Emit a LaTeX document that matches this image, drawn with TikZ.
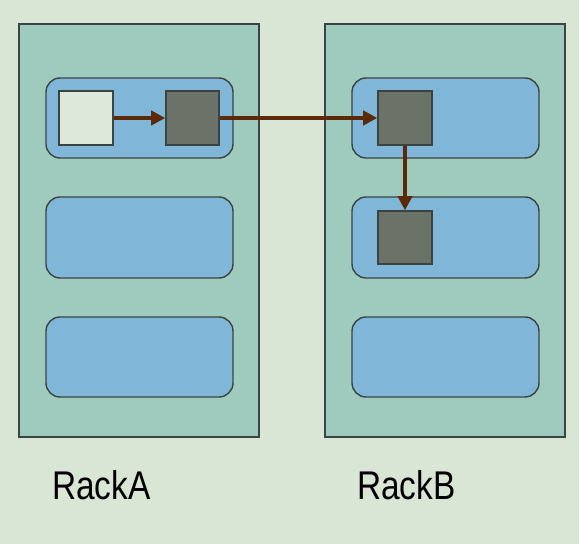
\documentclass[tikz,border=0pt]{standalone}
\usepackage{fontspec}
\setmainfont{Liberation Sans}
\usetikzlibrary{fit,arrows.meta}
\definecolor{bgcol}{HTML}{D9E6D6}
\definecolor{rackcol}{HTML}{9ECBBD}
\definecolor{hostcol}{HTML}{80B6D7}
\definecolor{blockcol}{HTML}{6B7369}
\definecolor{replcol}{HTML}{DDE8DA}
\definecolor{edgecol}{HTML}{3C4442}
\definecolor{flowcol}{HTML}{5C2A08}
\begin{document}
\begin{tikzpicture}[x=0.03cm,y=-0.03cm,
  rack/.style={draw=edgecol,fill=rackcol,line width=1.2pt,inner sep=0pt},
  host/.style={draw=edgecol,fill=hostcol,line width=1.2pt,inner sep=0pt,rounded corners=12pt},
  block/.style={draw=edgecol,fill=blockcol,line width=1.2pt,inner sep=0pt},
  flow/.style={draw=flowcol,line width=3.6pt,-{Triangle[length=12pt,width=12pt]}},
  racklabel/.style={anchor=base west,inner sep=0pt,font=\fontsize{28.5}{30}\selectfont}]
\fill[bgcol] (0,0) rectangle (579,544);
\useasboundingbox (0,0) rectangle (579,544);
% racks
\node[rack,fit={(19,24) (259,437)}] (rackA) {};
\node[rack,fit={(325,24) (565,437)}] (rackB) {};
% hosts
\node[host,fit={(46,78) (233,158)}] (hostA1) {};
\node[host,fit={(46,197) (233,278)}] (hostA2) {};
\node[host,fit={(46,317) (233,397)}] (hostA3) {};
\node[host,fit={(352,78) (539,158)}] (hostB1) {};
\node[host,fit={(352,197) (539,278)}] (hostB2) {};
\node[host,fit={(352,317) (539,397)}] (hostB3) {};
% blocks
\node[block,fill=replcol,fit={(59,91) (113,145)}] (src) {};
\node[block,fit={(166,91) (219,145)}] (blkA) {};
\node[block,fit={(378,91) (432,145)}] (blkB1) {};
\node[block,fit={(378,211) (432,264)}] (blkB2) {};
% pipeline
\draw[flow] (src) -- (blkA);
\draw[flow] (blkA) -- (blkB1);
\draw[flow] (blkB1) -- (blkB2);
% labels
\node[racklabel] (labelA) at (52,500) {\scalebox{1}[1.2]{RackA}};
\node[racklabel] (labelB) at (357,500) {\scalebox{1}[1.2]{RackB}};
\end{tikzpicture}
\end{document}
